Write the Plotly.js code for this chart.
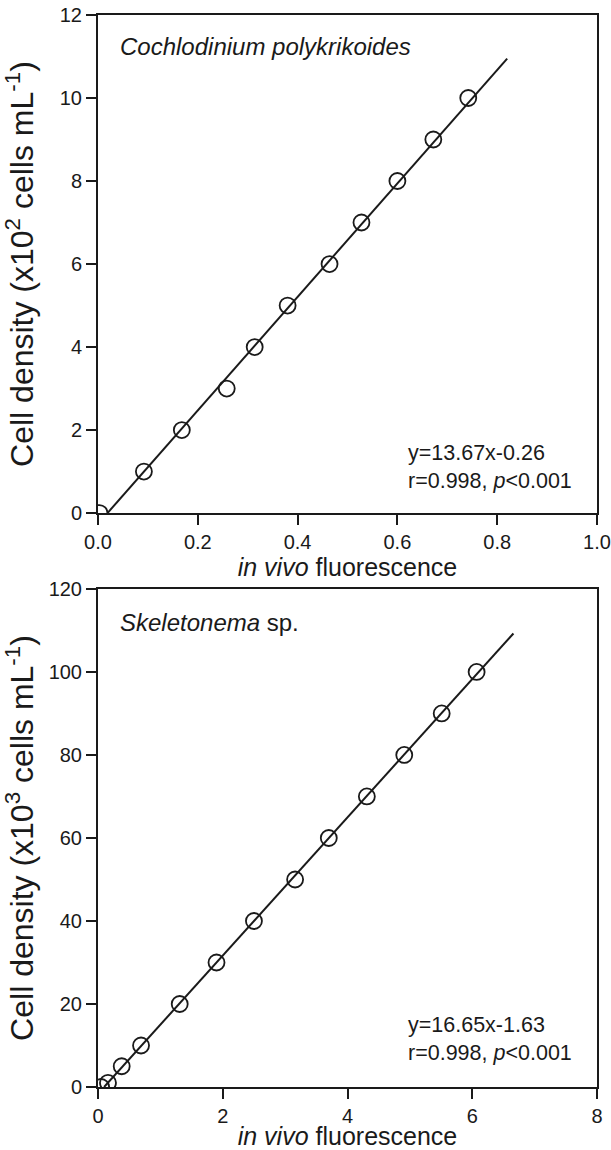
<!DOCTYPE html>
<html>
<head>
<meta charset="utf-8">
<script src="https://cdn.plot.ly/plotly-3.0.1.min.js"></script>
<style>
  html, body { margin: 0; padding: 0; background: #ffffff; }
  #chart { width: 611px; height: 1150px; }
</style>
</head>
<body>
<div id="chart"></div>
<script>
// Calibration: Cochlodinium polykrikoides (x10^2 cells mL^-1)
const cochFluor = [0.003, 0.092, 0.168, 0.258, 0.314, 0.380, 0.464, 0.528, 0.600, 0.672, 0.742];
const cochDensity = [0, 1, 2, 3, 4, 5, 6, 7, 8, 9, 10];
const cochSlope = 13.67;
const cochIntercept = -0.26;
const cochFitMaxX = 0.82;

// Calibration: Skeletonema sp. (x10^3 cells mL^-1)
const skelFluor = [0.05, 0.16, 0.38, 0.69, 1.31, 1.90, 2.50, 3.16, 3.70, 4.31, 4.91, 5.51, 6.07];
const skelDensity = [0, 1, 5, 10, 20, 30, 40, 50, 60, 70, 80, 90, 100];
const skelSlope = 16.65;
const skelIntercept = -1.63;
const skelFitMaxX = 6.66;

// Axis ranges
const cochXRange = [0, 1.0];
const cochYRange = [0, 12];
const skelXRange = [0, 8];
const skelYRange = [0, 120];

const FONT = 'Liberation Sans, Arial, Helvetica, sans-serif';
const INK = '#1a1a1a';

// Regression line from the x-intercept up to the last fitted x
function fitLine(slope, intercept, xMax) {
  const x0 = -intercept / slope;
  const xs = [x0, xMax];
  return { x: xs, y: xs.map(v => slope * v + intercept) };
}

const cochFit = fitLine(cochSlope, cochIntercept, cochFitMaxX);
const skelFit = fitLine(skelSlope, skelIntercept, skelFitMaxX);

const markerStyle = {
  symbol: 'circle-open',
  size: 16,
  color: INK,
  line: { width: 1.8, color: INK }
};

const traces = [
  { x: cochFit.x, y: cochFit.y, xaxis: 'x', yaxis: 'y', mode: 'lines',
    line: { color: INK, width: 2 }, hoverinfo: 'skip' },
  { x: cochFluor, y: cochDensity, xaxis: 'x', yaxis: 'y', mode: 'markers',
    marker: markerStyle },
  { x: skelFit.x, y: skelFit.y, xaxis: 'x2', yaxis: 'y2', mode: 'lines',
    line: { color: INK, width: 2 }, hoverinfo: 'skip' },
  { x: skelFluor, y: skelDensity, xaxis: 'x2', yaxis: 'y2', mode: 'markers',
    marker: markerStyle }
];

const baseAxis = {
  showgrid: false,
  zeroline: false,
  showline: true,
  linecolor: INK,
  linewidth: 2,
  mirror: true,
  ticks: 'outside',
  ticklen: 10,
  tickwidth: 2,
  tickcolor: INK,
  tickfont: { family: FONT, size: 20, color: INK },
  automargin: false
};

const xTitleText = '<i>in vivo</i> fluorescence';
const xTitleFont = { family: FONT, size: 25, color: INK };
const yTitleFont = { family: FONT, size: 32, color: INK };

const layout = {
  width: 611,
  height: 1150,
  margin: { l: 98, r: 14, t: 15, b: 63 },
  paper_bgcolor: '#ffffff',
  plot_bgcolor: '#ffffff',
  showlegend: false,
  font: { family: FONT, color: INK },
  xaxis: Object.assign({}, baseAxis, {
    anchor: 'y', domain: [0, 1], range: cochXRange,
    tick0: 0, dtick: 0.2, tickformat: '.1f',
    title: { text: xTitleText, font: xTitleFont, standoff: 5 }
  }),
  yaxis: Object.assign({}, baseAxis, {
    anchor: 'x', domain: [0.5354, 1], range: cochYRange,
    tick0: 0, dtick: 2,
    title: {
      text: 'Cell density (x10<sup>2</sup> cells mL<sup>-1</sup>)',
      font: yTitleFont,
      standoff: 19
    }
  }),
  xaxis2: Object.assign({}, baseAxis, {
    anchor: 'y2', domain: [0, 1], range: skelXRange,
    tick0: 0, dtick: 2,
    title: { text: xTitleText, font: xTitleFont, standoff: 9 }
  }),
  yaxis2: Object.assign({}, baseAxis, {
    anchor: 'x2', domain: [0, 0.4646], range: skelYRange,
    tick0: 0, dtick: 20,
    title: {
      text: 'Cell density (x10<sup>3</sup> cells mL<sup>-1</sup>)',
      font: yTitleFont,
      standoff: 9
    }
  }),
  annotations: [
    { xref: 'x domain', yref: 'y domain', x: 0.04, y: 0.936,
      xanchor: 'left', yanchor: 'middle', showarrow: false,
      text: '<i>Cochlodinium polykrikoides</i>',
      font: { family: FONT, size: 24, color: INK } },
    { xref: 'x domain', yref: 'y domain', x: 0.617, y: 0.0924,
      xanchor: 'left', yanchor: 'middle', align: 'left', showarrow: false,
      text: 'y=' + cochSlope.toFixed(2) + 'x-' + Math.abs(cochIntercept).toFixed(2) +
            '<br>r=0.998, <i>p</i>&lt;0.001',
      font: { family: FONT, size: 21.5, color: INK } },
    { xref: 'x2 domain', yref: 'y2 domain', x: 0.04, y: 0.932,
      xanchor: 'left', yanchor: 'middle', showarrow: false,
      text: '<i>Skeletonema</i> sp.',
      font: { family: FONT, size: 24, color: INK } },
    { xref: 'x2 domain', yref: 'y2 domain', x: 0.617, y: 0.0954,
      xanchor: 'left', yanchor: 'middle', align: 'left', showarrow: false,
      text: 'y=' + skelSlope.toFixed(2) + 'x-' + Math.abs(skelIntercept).toFixed(2) +
            '<br>r=0.998, <i>p</i>&lt;0.001',
      font: { family: FONT, size: 21.5, color: INK } }
  ]
};

Plotly.newPlot('chart', traces, layout, { displayModeBar: false, staticPlot: true });
</script>
</body>
</html>
